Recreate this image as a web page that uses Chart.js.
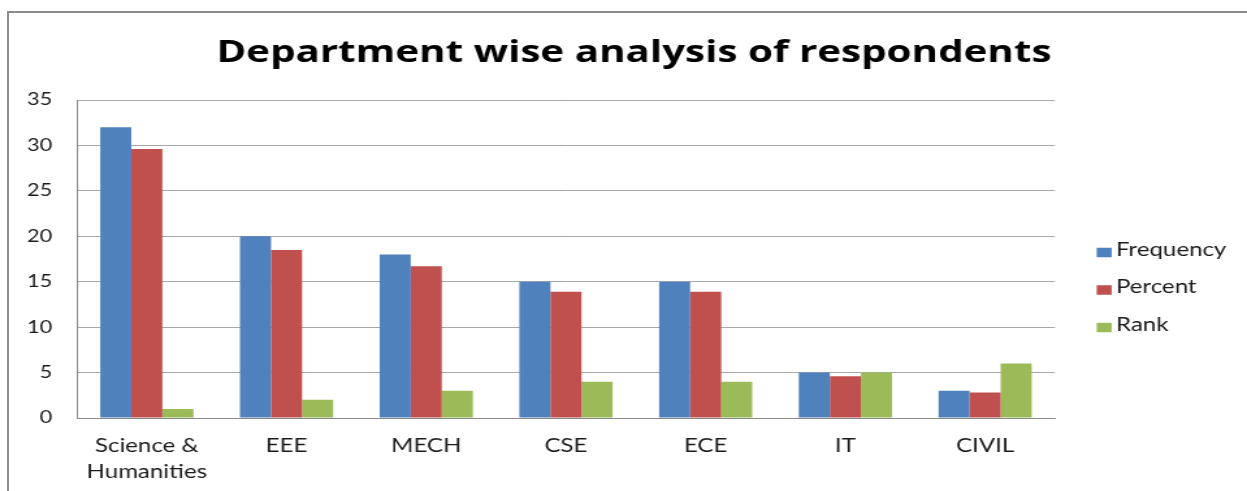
<!DOCTYPE html>
<html>
<head>
<meta charset="utf-8">
<script src="https://cdn.jsdelivr.net/npm/chart.js@4.4.1/dist/chart.umd.min.js"></script>
<style>
  html, body { margin: 0; padding: 0; background: #ffffff; overflow: hidden; }
  #wrap { position: relative; width: 1247px; height: 491px; }
  #c { display: block; width: 1247px; height: 491px; }
  #frame { position: absolute; left: 7px; top: 11px; right: -4px; bottom: -4px;
           border-left: 2px solid #8c8c8c; border-top: 2px solid #8c8c8c; pointer-events: none; }
</style>
</head>
<body>
<div id="wrap">
  <canvas id="c" width="959" height="491" style="width:1247px;height:491px"></canvas>
  <div id="frame"></div>
</div>
<script>
// ---- data ----
const categories = [["Science &", "Humanities"], "EEE", "MECH", "CSE", "ECE", "IT", "CIVIL"];
const frequency = [32, 20, 18, 15, 15, 5, 3];
const percent = [29.6, 18.5, 16.7, 13.9, 13.9, 4.6, 2.8];
const rank = [1, 2, 3, 4, 4, 5, 6];
const seriesNames = ["Frequency", "Percent", "Rank"];
const seriesColors = ["#4f81bd", "#c0504d", "#9bbb59"];
const yTicks = [0, 5, 10, 15, 20, 25, 30, 35];
const chartTitle = "Department wise analysis of respondents";

// canvas is drawn at 959 px wide and displayed stretched to 1247 px (like the reference)
const FONT = "Lato, 'Open Sans', 'DejaVu Sans', sans-serif";
const TITLE_FONT = "'Open Sans', Lato, 'DejaVu Sans', sans-serif";

const sideLegend = {
  id: 'sideLegend',
  afterDraw(chart, args, opts) {
    const ctx = chart.ctx;
    ctx.save();
    ctx.font = opts.size + 'px ' + FONT;
    ctx.textBaseline = 'middle';
    ctx.textAlign = 'left';
    chart.data.datasets.forEach((ds, i) => {
      const cy = opts.top + i * opts.step;
      ctx.fillStyle = ds.backgroundColor;
      ctx.fillRect(opts.boxX, cy - opts.boxH / 2 + opts.boxDy, opts.boxW, opts.boxH);
      ctx.fillStyle = opts.color;
      ctx.fillText(ds.label, opts.textX, cy);
    });
    ctx.restore();
  }
};

const datasets = [frequency, percent, rank].map((vals, i) => ({
  label: seriesNames[i],
  data: vals,
  backgroundColor: seriesColors[i],
  borderWidth: 0,
  yAxisID: 'y',
  categoryPercentage: 0.667,
  barPercentage: 1.0
}));

new Chart(document.getElementById('c'), {
  type: 'bar',
  data: { labels: categories, datasets },
  options: {
    responsive: false,
    devicePixelRatio: 1,
    animation: false,
    layout: { padding: { left: 16, right: 0, top: 0, bottom: 0 } },
    plugins: {
      legend: { display: false },
      tooltip: { enabled: false },
      title: {
        display: true,
        text: chartTitle,
        color: '#000000',
        font: { family: TITLE_FONT, size: 31, weight: 'bold', lineHeight: 1.2 },
        padding: { top: 35, bottom: 27.8 }
      },
      sideLegend: {
        boxX: 843.4, boxW: 11.5, boxH: 9.5, boxDy: 2.5,
        textX: 858.2, top: 250, step: 37.5, size: 18.5, color: '#1a1a1a'
      }
    },
    scales: {
      x: {
        grid: { display: false, drawTicks: false },
        border: { display: true, color: '#8a8a8a', width: 1 },
        ticks: {
          color: '#1a1a1a',
          font: { family: FONT, size: 18.5, lineHeight: 1.4 },
          padding: 15,
          maxRotation: 0,
          autoSkip: false
        },
        afterFit(scale) { scale.height = 73; }
      },
      y: {
        min: 0, max: 35,
        afterBuildTicks(scale) { scale.ticks = yTicks.map(v => ({ value: v })); },
        grid: { color: '#a8a8a8', lineWidth: 1, drawTicks: false },
        border: { display: true, color: '#8a8a8a', width: 1 },
        ticks: {
          color: '#1a1a1a',
          font: { family: FONT, size: 16.7 },
          padding: 19
        },
        afterFit(scale) { scale.width = 43.2; }
      },
      yR: {
        position: 'right',
        display: true,
        grid: { display: false, drawTicks: false },
        border: { display: false },
        ticks: { display: false },
        afterFit(scale) { scale.width = 147.7; }
      }
    }
  },
  plugins: [sideLegend]
});
</script>
</body>
</html>
